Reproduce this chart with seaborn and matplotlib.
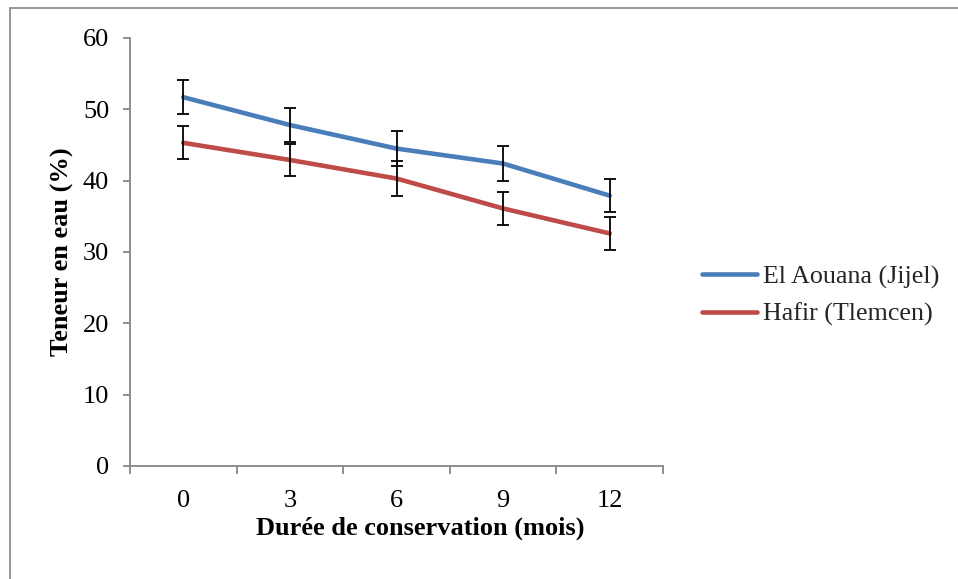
import matplotlib
matplotlib.use("Agg")
import matplotlib.pyplot as plt
from matplotlib.patches import Rectangle
import seaborn as sns
import pandas as pd
import numpy as np

# Storage duration (months) and water content (%) with error margins
months = ["0", "3", "6", "9", "12"]
aouana = [51.7, 47.8, 44.5, 42.4, 37.9]
aouana_err = [2.4, 2.4, 2.4, 2.4, 2.3]
hafir = [45.3, 42.9, 40.3, 36.1, 32.6]
hafir_err = [2.3, 2.3, 2.4, 2.3, 2.3]
series_names = ["El Aouana (Jijel)", "Hafir (Tlemcen)"]
colors = ["#4A7EBB", "#BE4B48"]

df = pd.DataFrame({
    "mois": months * 2,
    "teneur": aouana + hafir,
    "err": aouana_err + hafir_err,
    "site": [series_names[0]] * len(months) + [series_names[1]] * len(months),
})

sns.set_theme(style="white")
plt.rcParams["font.family"] = ["Liberation Serif", "DejaVu Serif"]

fig = plt.figure(figsize=(9.58, 5.79), dpi=100)
ax = fig.add_axes([130 / 958, 113 / 579, 533 / 958, 428 / 579])

sns.lineplot(data=df, x="mois", y="teneur", hue="site", palette=colors,
             linewidth=3.3, ax=ax, sort=False, legend=True)
for line in ax.get_lines():
    line.set_solid_capstyle("round")

pos = np.arange(len(months))
for vals, errs in [(aouana, aouana_err), (hafir, hafir_err)]:
    ax.errorbar(pos, vals, yerr=errs, fmt="none", ecolor="black",
                elinewidth=1.3, capsize=4.5, capthick=1.3, zorder=5)

grey = "#868686"
ax.set_xlim(-0.5, len(months) - 0.5)
ax.set_ylim(0, 60)
ax.set_yticks(np.arange(0, 61, 10))
ax.set_xticks(pos)
ax.set_xticklabels(months)
ax.set_xticks(np.arange(-0.5, len(months), 1.0), minor=True)

for side in ["top", "right"]:
    ax.spines[side].set_visible(False)
for side in ["left", "bottom"]:
    ax.spines[side].set_color(grey)
    ax.spines[side].set_linewidth(1.3)

ax.tick_params(axis="y", which="major", direction="out", length=5, width=1.3,
               color=grey, labelsize=19, pad=10, left=True)
ax.tick_params(axis="x", which="major", length=0, labelsize=19, pad=17, bottom=True)
ax.tick_params(axis="x", which="minor", direction="out", length=6, width=1.3,
               color=grey, bottom=True)
for lab in ax.get_xticklabels() + ax.get_yticklabels():
    lab.set_color("black")

ax.set_xlabel("Durée de conservation (mois)", fontsize=19, fontweight="bold",
              color="black")
ax.xaxis.set_label_coords(0.544, -0.119)
ax.xaxis.label.set_va("top")
ax.set_ylabel("Teneur en eau (%)", fontsize=19, fontweight="bold", color="black")
ax.yaxis.set_label_coords(-0.105, 0.5)

handles, labels = ax.get_legend_handles_labels()
ax.legend(handles, labels, loc="upper left",
          bbox_to_anchor=(702 / 958, 314 / 579), bbox_transform=fig.transFigure,
          frameon=False, fontsize=18.7, handlelength=2.1, handletextpad=0.25,
          labelspacing=0.55, borderpad=0, borderaxespad=0)

# chart frame
fig.patches.append(Rectangle((10 / 958, -0.05), 1.1, (571 / 579) + 0.05,
                             transform=fig.transFigure, fill=False,
                             edgecolor=grey, linewidth=1.2))

fig.savefig("out.png", dpi=100)
